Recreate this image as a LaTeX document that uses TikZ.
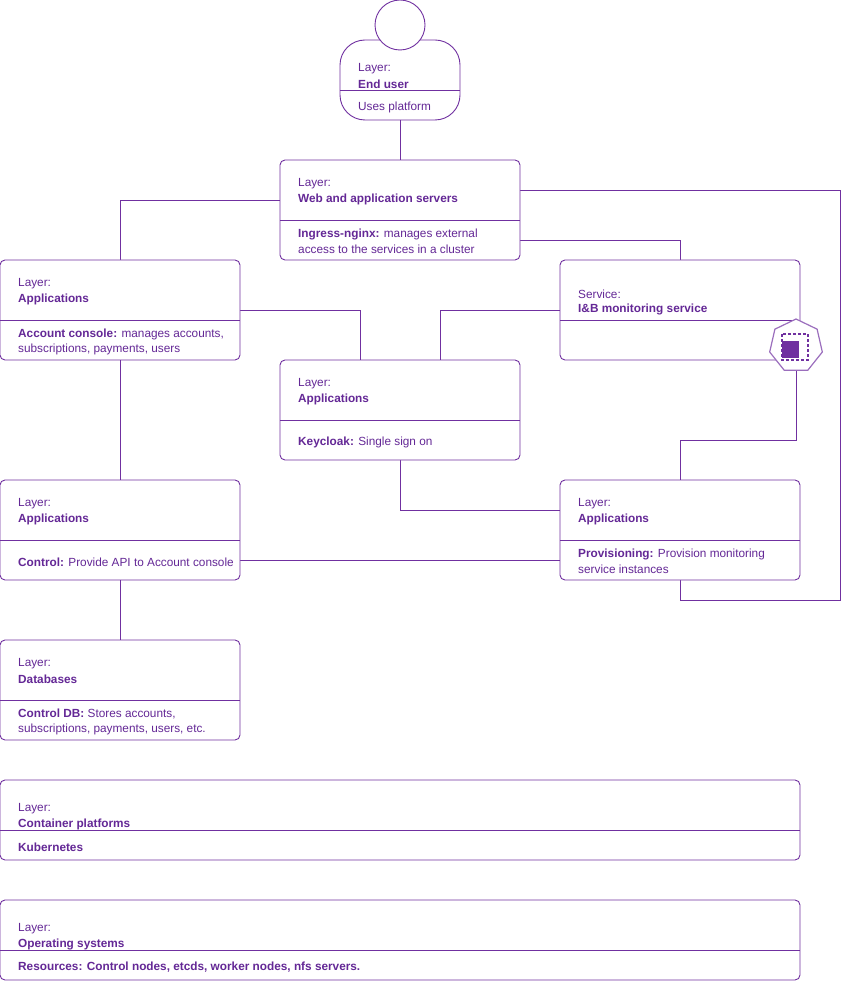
\documentclass[tikz,border=0pt]{standalone}
\usepackage{fontspec}
\setmainfont{Liberation Sans}
\usetikzlibrary{calc,shapes.geometric}
\definecolor{layerline}{RGB}{112,48,160}
\definecolor{layertext}{RGB}{100,40,150}
\tikzset{
  box/.style={draw=layerline, line width=0.9pt, rectangle, rounded corners=5pt, inner sep=0pt, outer sep=0pt, fill=white},
  txt/.style={anchor=west, inner sep=0pt, text=layertext, font=\fontsize{11.8}{13}\selectfont},
  link/.style={draw=layerline, line width=0.9pt}
}
\newcommand\boxat[6]{% name, x, y, w, h, divider offset
  \node[box, minimum width=#4pt, minimum height=#5pt, anchor=north west] (#1) at (#2,#3) {};
  \draw[layerline, line width=0.9pt] ($(#1.north west)+(0,#6)$) -- ($(#1.north east)+(0,#6)$);
}
\begin{document}
\begin{tikzpicture}[x=1pt, y=-1pt]
\useasboundingbox (0,0) rectangle (842,981);
% connectors
\coordinate (webR) at (840,190);
\coordinate (webB) at (840,600);
\coordinate (webC) at (680,600);
\path (520,190) coordinate (webout1) (520,240) coordinate (webout2);
\path[link] (280,200) -- (120,200) -- (120,260);
\path[link] (webout1) -- (webR) -- (webB) -- (webC) -- (680,580);
\path[link] (webout2) -- (680,240) -- (680,260);
\path[link] (240,310) -- (360,310) -- (360,360);
\path[link] (560,310) -- (440,310) -- (440,360);
\path[link] (400,460) -- (400,510) -- (560,510);
\path[link] (240,560) -- (560,560);
\path[link] (796,346) -- (796,440) -- (680,440) -- (680,480);

% boxes
\node[box, rounded corners=25pt, minimum width=120pt, minimum height=80pt, anchor=north west] (user) at (340,40) {};
\draw[layerline, line width=0.9pt] (340,90) -- (460,90);
\node[circle, draw=layerline, line width=0.9pt, fill=white, minimum size=50pt, inner sep=0pt] (head) at (400,25) {};
\boxat{web}{280}{160}{240}{100}{60}
\boxat{accon}{0}{260}{240}{100}{60}
\boxat{monsvc}{560}{260}{240}{100}{60}
\boxat{keycl}{280}{360}{240}{100}{60}
\boxat{ctrl}{0}{480}{240}{100}{60}
\boxat{prov}{560}{480}{240}{100}{60}
\boxat{ctrldb}{0}{640}{240}{100}{60}
\boxat{contp}{0}{780}{800}{80}{50}
\boxat{ossys}{0}{900}{800}{80}{50}

\draw[link] (user.south) -- (web.north);
\draw[link] (accon.south) -- (ctrl.north);
\draw[link] (ctrl.south) -- (ctrldb.north);

% icon
\node[regular polygon, regular polygon sides=7, draw=layerline!70, line width=1.2pt, fill=white, minimum size=54pt, inner sep=0pt] (kicon) at (796,346) {};
\draw[layerline, line width=1.3pt, dash pattern=on 3pt off 2pt] (782,334) rectangle (808,360);
\fill[layerline] (782,341) rectangle (799,358);

% texts
\node[txt] (userA) at (358,69) {Layer:};
\node[txt] (userB) at (358,84) {\textbf{End user}};
\node[txt] (userC) at (358,107) {Uses platform};
\node[txt] (webA) at (298,184) {Layer:};
\node[txt] (webB2) at (298,199) {\textbf{Web and application servers}};
\node[txt] (webC2) at (298,234) {\textbf{Ingress-nginx:} manages external};
\node[txt] (webD) at (298,249) {access to the services in a cluster};
\node[txt] (acA) at (18,284) {Layer:};
\node[txt] (acB) at (18,299) {\textbf{Applications}};
\node[txt] (acC) at (18,334) {\textbf{Account console:} manages accounts,};
\node[txt] (acD) at (18,349) {subscriptions, payments, users};
\node[txt] (msA) at (578,294) {Service:};
\node[txt] (msB) at (578,309) {\textbf{I\&B monitoring service}};
\node[txt] (kcA) at (298,384) {Layer:};
\node[txt] (kcB) at (298,399) {\textbf{Applications}};
\node[txt] (kcC) at (298,442) {\textbf{Keycloak:} Single sign on};
\node[txt] (ctA) at (18,504) {Layer:};
\node[txt] (ctB) at (18,519) {\textbf{Applications}};
\node[txt] (ctC) at (18,562) {\textbf{Control:} Provide API to Account console};
\node[txt] (pvA) at (578,504) {Layer:};
\node[txt] (pvB) at (578,519) {\textbf{Applications}};
\node[txt] (pvC) at (578,554) {\textbf{Provisioning:} Provision monitoring};
\node[txt] (pvD) at (578,569) {service instances};
\node[txt] (dbA) at (18,664) {Layer:};
\node[txt] (dbB) at (18,679) {\textbf{Databases}};
\node[txt] (dbC) at (18,714) {\textbf{Control DB:} Stores accounts,};
\node[txt] (dbD) at (18,729) {subscriptions, payments, users, etc.};
\node[txt] (cpA) at (18,809) {Layer:};
\node[txt] (cpB) at (18,824) {\textbf{Container platforms}};
\node[txt] (cpC) at (18,847) {\textbf{Kubernetes}};
\node[txt] (osA) at (18,929) {Layer:};
\node[txt] (osB) at (18,944) {\textbf{Operating systems}};
\node[txt] (osC) at (18,967) {\textbf{Resources: Control nodes, etcds, worker nodes, nfs servers.}};
\end{tikzpicture}
\end{document}
